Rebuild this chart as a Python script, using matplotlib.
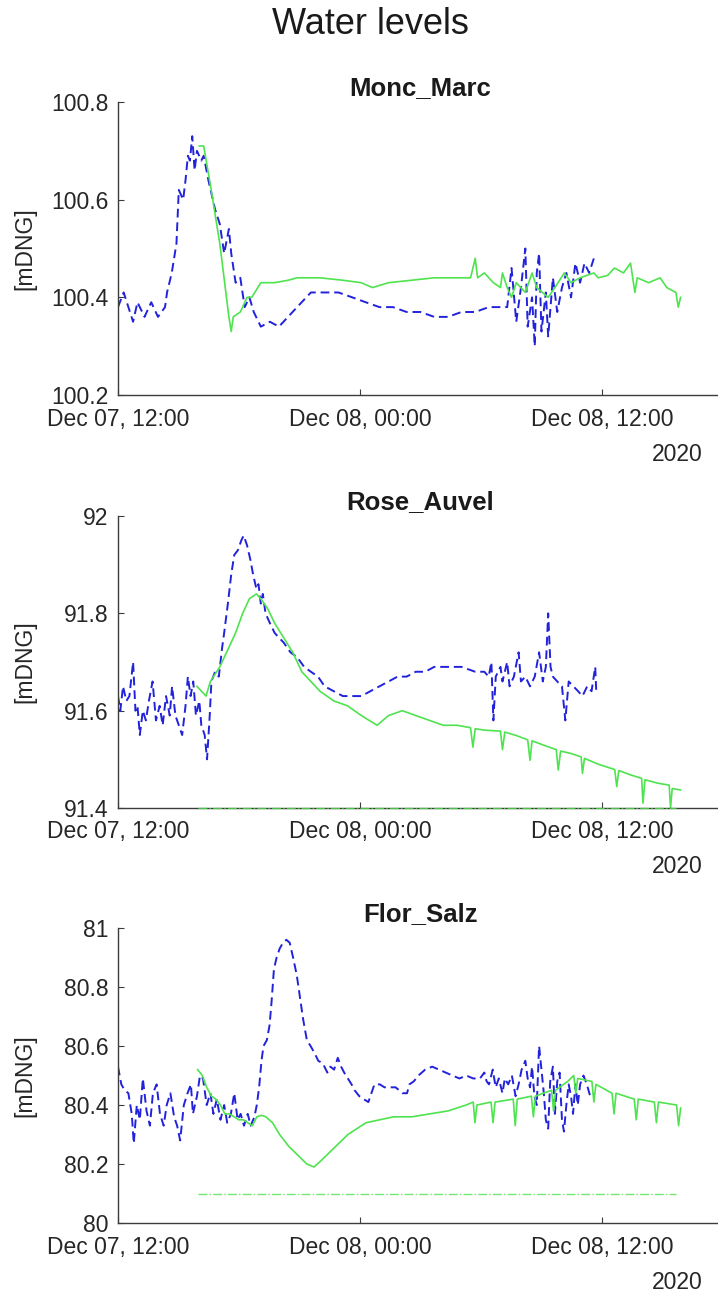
import numpy as np
import matplotlib
matplotlib.use('Agg')
import matplotlib.pyplot as plt
import matplotlib.dates as mdates
from matplotlib.ticker import MultipleLocator, FormatStrFormatter

START = np.datetime64('2020-12-07T12:00')

# ---- Monc_Marc: hours after START, level [mDNG]
mm_obs_h = [0.00, 0.29, 0.75, 0.97, 1.31, 1.65, 1.99, 2.33, 2.44, 2.67, 2.90, 3.01, 3.24, 3.35,
            3.46, 3.57, 3.69, 3.80, 3.91, 4.14, 4.25, 4.48, 4.82, 5.05, 5.27, 5.50, 5.61, 5.84,
            6.06, 6.29, 6.52, 6.74, 7.08, 7.53, 7.99, 8.44, 8.89, 9.57, 10.25, 10.93, 11.61,
            12.29, 12.96, 13.64, 14.32, 15.00, 15.68, 16.36, 17.04, 17.71, 18.39, 18.85, 19.30,
            19.52, 19.75, 19.98, 20.20, 20.32, 20.54, 20.66, 20.77, 20.88, 21.00, 21.22, 21.33,
            21.56, 21.79, 22.01, 22.24, 22.47, 22.69, 22.92, 23.14, 23.37, 23.60]
mm_obs = [100.38, 100.41, 100.35, 100.39, 100.36, 100.39, 100.36, 100.38, 100.41, 100.45, 100.51,
          100.62, 100.60, 100.64, 100.69, 100.68, 100.73, 100.66, 100.70, 100.68, 100.69, 100.64,
          100.58, 100.55, 100.49, 100.54, 100.49, 100.43, 100.44, 100.38, 100.40, 100.37, 100.34,
          100.35, 100.34, 100.36, 100.38, 100.41, 100.41, 100.41, 100.40, 100.39, 100.38, 100.38,
          100.37, 100.37, 100.36, 100.36, 100.37, 100.37, 100.38, 100.38, 100.38, 100.46, 100.35,
          100.42, 100.50, 100.34, 100.40, 100.30, 100.45, 100.49, 100.33, 100.41, 100.32, 100.44,
          100.37, 100.42, 100.45, 100.40, 100.47, 100.43, 100.47, 100.45, 100.48]
mm_sim_h = [4.03, 4.25, 4.59, 5.05, 5.50, 5.61, 5.72, 6.06, 6.40, 6.63, 7.08, 7.76, 8.44, 8.89,
            10.02, 11.15, 12.06, 12.62, 13.42, 14.55, 15.68, 16.81, 17.49, 17.71, 17.83, 18.17,
            18.62, 18.96, 19.07, 19.30, 19.52, 19.75, 20.20, 20.54, 20.77, 21.33, 21.67, 22.13,
            22.47, 22.92, 23.60, 23.82, 24.28, 24.62, 25.07, 25.41, 25.63, 25.75, 26.31, 26.88,
            27.22, 27.67, 27.78, 27.90]
mm_sim = [100.71, 100.71, 100.63, 100.51, 100.36, 100.33, 100.36, 100.37, 100.40, 100.40, 100.43,
          100.43, 100.435, 100.44, 100.44, 100.435, 100.43, 100.42, 100.43, 100.435, 100.44,
          100.44, 100.44, 100.48, 100.44, 100.45, 100.43, 100.42, 100.45, 100.42, 100.40, 100.43,
          100.41, 100.45, 100.42, 100.40, 100.42, 100.45, 100.43, 100.44, 100.45, 100.44, 100.445,
          100.46, 100.45, 100.47, 100.41, 100.44, 100.43, 100.44, 100.42, 100.41, 100.38, 100.40]

# ---- Rose_Auvel
ra_obs_h = [0.00, 0.11, 0.25, 0.41, 0.57, 0.75, 0.86, 0.97, 1.09, 1.24, 1.38, 1.54, 1.72, 1.88,
            2.06, 2.22, 2.38, 2.56, 2.69, 2.85, 3.01, 3.19, 3.35, 3.46, 3.60, 3.73, 3.87, 4.03,
            4.14, 4.30, 4.41, 4.55, 4.64, 4.82, 5.00, 5.16, 5.27, 5.45, 5.61, 5.77, 5.95, 6.11,
            6.24, 6.40, 6.56, 6.70, 6.86, 6.97, 7.08, 7.19, 7.31, 7.53, 7.76, 7.99, 8.21, 8.55,
            8.89, 9.23, 9.57, 9.91, 10.25, 10.70, 11.15, 11.61, 12.06, 12.51, 12.96, 13.42, 13.87,
            14.32, 14.77, 15.23, 15.68, 16.36, 17.04, 17.71, 18.17, 18.39, 18.51, 18.62, 18.73,
            18.96, 19.07, 19.30, 19.41, 19.64, 19.86, 19.98, 20.20, 20.43, 20.66, 20.88, 21.06,
            21.22, 21.33, 21.45, 21.56, 21.79, 22.01, 22.19, 22.35, 22.58, 22.81, 23.03, 23.26,
            23.48, 23.67, 23.71]
ra_obs = [91.63, 91.60, 91.65, 91.62, 91.63, 91.70, 91.60, 91.61, 91.55, 91.60, 91.58, 91.62,
          91.66, 91.58, 91.61, 91.57, 91.63, 91.59, 91.65, 91.59, 91.57, 91.55, 91.61, 91.67,
          91.63, 91.66, 91.59, 91.62, 91.57, 91.55, 91.50, 91.59, 91.66, 91.68, 91.67, 91.73,
          91.76, 91.82, 91.88, 91.92, 91.93, 91.95, 91.96, 91.94, 91.91, 91.88, 91.85, 91.86,
          91.82, 91.84, 91.80, 91.78, 91.76, 91.75, 91.74, 91.72, 91.71, 91.69, 91.68, 91.67,
          91.65, 91.64, 91.63, 91.63, 91.63, 91.64, 91.65, 91.66, 91.67, 91.67, 91.68, 91.68,
          91.69, 91.69, 91.69, 91.68, 91.68, 91.67, 91.70, 91.58, 91.67, 91.69, 91.66, 91.70,
          91.65, 91.67, 91.72, 91.66, 91.67, 91.65, 91.67, 91.72, 91.66, 91.69, 91.80, 91.69,
          91.67, 91.66, 91.65, 91.58, 91.66, 91.65, 91.64, 91.63, 91.65, 91.64, 91.69, 91.64]
ra_sim_h = [3.91, 4.37, 4.59, 5.05, 5.50, 5.84, 6.18, 6.52, 6.86, 7.08, 7.42, 7.76, 8.21, 8.67,
            9.12, 9.57, 10.02, 10.70, 11.38, 12.06, 12.85, 13.42, 14.10, 14.77, 15.45, 16.13,
            16.81, 17.49, 17.60, 17.71, 18.17, 18.96, 19.07, 19.19, 19.75, 20.32, 20.43, 20.54,
            21.11, 21.74, 21.83, 21.95, 22.47, 22.96, 23.03, 23.14, 23.82, 24.64, 24.73, 24.84,
            25.41, 25.97, 26.04, 26.13, 26.76, 27.33, 27.40, 27.49, 27.90]
ra_sim = [91.65, 91.63, 91.66, 91.69, 91.73, 91.76, 91.80, 91.83, 91.84, 91.83, 91.81, 91.78,
          91.75, 91.72, 91.68, 91.66, 91.64, 91.62, 91.61, 91.59, 91.57, 91.59, 91.60, 91.59,
          91.58, 91.57, 91.57, 91.565, 91.525, 91.563, 91.56, 91.558, 91.52, 91.556, 91.549,
          91.54, 91.498, 91.538, 91.529, 91.52, 91.478, 91.517, 91.512, 91.505, 91.471, 91.502,
          91.49, 91.479, 91.444, 91.477, 91.468, 91.461, 91.41, 91.458, 91.451, 91.447, 91.40,
          91.44, 91.437]
ra_alarm = 91.40

# ---- Flor_Salz
fs_obs_h = [0.00, 0.16, 0.34, 0.52, 0.68, 0.79, 0.93, 1.08, 1.24, 1.42, 1.58, 1.74, 1.92, 2.08,
            2.26, 2.42, 2.60, 2.78, 2.93, 3.09, 3.27, 3.45, 3.61, 3.72, 3.91, 4.06, 4.22, 4.40,
            4.58, 4.74, 4.90, 5.08, 5.26, 5.42, 5.60, 5.76, 5.94, 6.09, 6.25, 6.43, 6.59, 6.77,
            6.88, 7.00, 7.11, 7.22, 7.38, 7.52, 7.61, 7.74, 7.86, 8.01, 8.19, 8.35, 8.51, 8.69,
            8.87, 9.03, 9.19, 9.37, 9.55, 9.71, 9.93, 10.16, 10.38, 10.54, 10.72, 10.90, 11.06,
            11.22, 11.40, 11.58, 11.74, 11.96, 12.19, 12.42, 12.57, 12.71, 12.98, 13.21, 13.43,
            13.77, 14.11, 14.33, 14.45, 14.67, 14.90, 15.24, 15.58, 15.91, 16.25, 16.59, 16.93,
            17.27, 17.61, 17.95, 18.17, 18.28, 18.40, 18.58, 18.74, 18.89, 19.07, 19.19, 19.35,
            19.53, 19.71, 19.86, 20.02, 20.20, 20.32, 20.43, 20.54, 20.65, 20.77, 20.88, 20.99,
            21.11, 21.22, 21.33, 21.44, 21.56, 21.67, 21.78, 21.90, 22.01, 22.12, 22.24, 22.35,
            22.46, 22.57, 22.69, 22.80, 22.91, 23.09, 23.25, 23.41, 23.59]
fs_obs = [80.53, 80.47, 80.45, 80.44, 80.37, 80.27, 80.40, 80.35, 80.49, 80.38, 80.33, 80.44,
          80.47, 80.37, 80.33, 80.40, 80.44, 80.36, 80.33, 80.28, 80.40, 80.44, 80.47, 80.37,
          80.43, 80.50, 80.49, 80.40, 80.44, 80.37, 80.42, 80.35, 80.40, 80.34, 80.37, 80.44,
          80.35, 80.37, 80.33, 80.37, 80.33, 80.36, 80.40, 80.46, 80.55, 80.60, 80.62, 80.67,
          80.75, 80.86, 80.90, 80.93, 80.95, 80.96, 80.95, 80.90, 80.84, 80.76, 80.69, 80.62,
          80.60, 80.58, 80.55, 80.54, 80.51, 80.53, 80.52, 80.56, 80.53, 80.51, 80.49, 80.47,
          80.45, 80.43, 80.42, 80.41, 80.44, 80.47, 80.47, 80.46, 80.46, 80.46, 80.44, 80.44,
          80.47, 80.48, 80.50, 80.52, 80.53, 80.52, 80.51, 80.50, 80.49, 80.50, 80.49, 80.49,
          80.51, 80.48, 80.47, 80.52, 80.46, 80.49, 80.44, 80.49, 80.47, 80.50, 80.43, 80.47,
          80.52, 80.55, 80.49, 80.46, 80.53, 80.43, 80.40, 80.60, 80.53, 80.44, 80.35, 80.32,
          80.48, 80.53, 80.37, 80.48, 80.51, 80.35, 80.31, 80.40, 80.47, 80.43, 80.37, 80.47,
          80.40, 80.47, 80.50, 80.47, 80.43, 80.44]
fs_sim_h = [3.95, 4.18, 4.40, 4.63, 4.85, 5.08, 5.30, 5.53, 5.76, 5.98, 6.21, 6.43, 6.66, 6.88,
            7.11, 7.34, 7.67, 8.01, 8.47, 8.92, 9.37, 9.71, 10.05, 10.50, 10.95, 11.40, 11.85,
            12.30, 12.98, 13.66, 14.56, 15.46, 16.37, 17.27, 17.61, 17.70, 17.80, 18.50, 18.60,
            18.70, 19.60, 19.70, 19.80, 20.50, 20.60, 20.70, 21.50, 21.60, 21.70, 22.30, 22.60,
            22.70, 22.80, 23.50, 23.60, 23.70, 24.50, 24.60, 24.70, 25.60, 25.70, 25.80, 26.60,
            26.70, 26.80, 27.70, 27.80, 27.90]
fs_sim = [80.52, 80.50, 80.46, 80.43, 80.42, 80.40, 80.37, 80.37, 80.36, 80.35, 80.35, 80.34,
          80.33, 80.36, 80.365, 80.36, 80.34, 80.30, 80.26, 80.23, 80.20, 80.19, 80.21, 80.24,
          80.27, 80.30, 80.32, 80.34, 80.35, 80.36, 80.36, 80.37, 80.38, 80.40, 80.41, 80.34,
          80.40, 80.41, 80.34, 80.41, 80.42, 80.33, 80.42, 80.43, 80.36, 80.43, 80.45, 80.38,
          80.45, 80.48, 80.50, 80.44, 80.49, 80.48, 80.41, 80.47, 80.44, 80.37, 80.44, 80.42,
          80.35, 80.42, 80.41, 80.34, 80.41, 80.40, 80.33, 80.39]
fs_alarm = 80.10

alarm_h = [3.95, 27.65]

names = ['Monc_Marc', 'Rose_Auvel', 'Flor_Salz']
ylims = [(100.2, 100.8), (91.4, 92.0), (80.0, 81.0)]
ysteps = [0.2, 0.2, 0.2]


def to_time(hours):
    return START + np.round(np.asarray(hours) * 60).astype('timedelta64[m]')


plt.rcParams['font.family'] = ['Liberation Sans', 'DejaVu Sans']
BLUE = '#2222dc'
GREEN = '#4fe34f'
AX_COL = '#3c3c3c'

fig = plt.figure(figsize=(7.18, 12.93), dpi=100)
fig.text(370 / 718, 1 - 24 / 1293, 'Water levels', ha='center', va='center', fontsize=26,
         color='#1a1a1a')

# axes rects in figure fraction (left, bottom, width, height)
rects = [(0.1643, 0.6945, 0.8426, 0.2266),
         (0.1643, 0.3751, 0.8426, 0.2258),
         (0.1643, 0.0541, 0.8426, 0.2282)]

data = [(mm_obs_h, mm_obs, mm_sim_h, mm_sim, None),
        (ra_obs_h, ra_obs, ra_sim_h, ra_sim, ra_alarm),
        (fs_obs_h, fs_obs, fs_sim_h, fs_sim, fs_alarm)]

for rect, name, ylim, step, (oh, ov, sh, sv, alarm) in zip(rects, names, ylims, ysteps, data):
    ax = fig.add_axes(rect)
    ax.plot(to_time(oh), ov, color=BLUE, lw=1.4, ls='--', dashes=(4.5, 2.5))
    ax.plot(to_time(sh), sv, color=GREEN, lw=1.2, ls='-')
    if alarm is not None:
        ax.plot(to_time(alarm_h), [alarm, alarm], color=GREEN, lw=1.0, ls='-.', alpha=0.8,
                clip_on=False, zorder=3)

    ax.set_xlim(START, START + np.timedelta64(30 * 60, 'm'))
    ax.set_ylim(*ylim)
    ax.yaxis.set_major_locator(MultipleLocator(step))
    ax.yaxis.set_major_formatter(FormatStrFormatter('%g'))
    ax.xaxis.set_major_locator(mdates.HourLocator(byhour=[0, 12]))
    ax.xaxis.set_major_formatter(mdates.DateFormatter('%b %d, %H:%M'))

    for s in ['top', 'right']:
        ax.spines[s].set_visible(False)
    for s in ['left', 'bottom']:
        ax.spines[s].set_color(AX_COL)
        ax.spines[s].set_linewidth(1.0)
    ax.tick_params(axis='both', direction='in', length=4, width=0.8, color=AX_COL,
                   labelcolor='#262626', labelsize=16.5)
    ax.tick_params(axis='y', pad=7)
    ax.tick_params(axis='x', pad=9)

    ax.set_title(name, fontsize=18.5, fontweight='bold', color='#1a1a1a', pad=5)
    ax.set_ylabel('[mDNG]', fontsize=16.5, color='#262626')
    ax.yaxis.set_label_coords(-0.135, 0.5)
    ax.annotate('2020', xy=(1, 0), xycoords='axes fraction', xytext=(-20, -59),
                textcoords='offset pixels', ha='right', va='center', fontsize=16.5,
                color='#262626')

fig.savefig('out.png', dpi=100)
